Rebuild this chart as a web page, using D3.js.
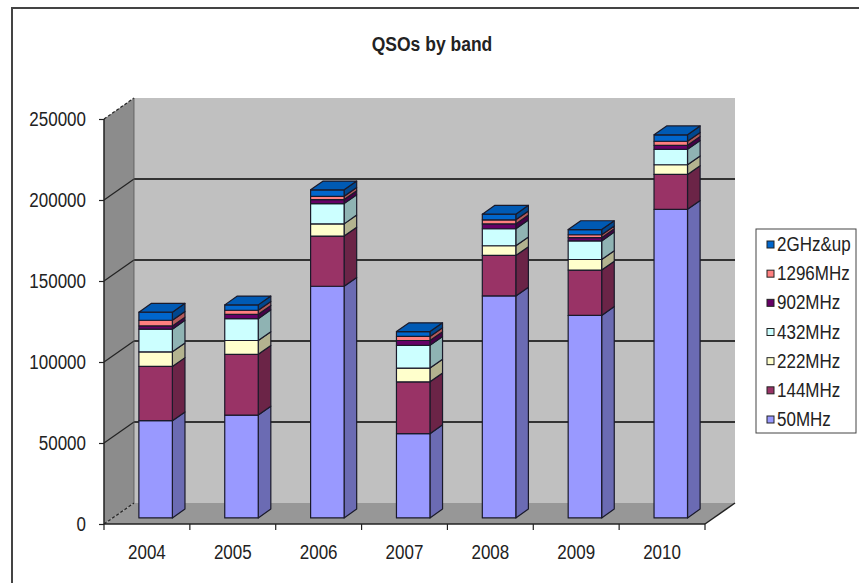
<!DOCTYPE html>
<html lang="en">
<head>
    <meta charset="UTF-8">
    <title>QSOs by band</title>
    <script src="https://d3js.org/d3.v7.min.js"></script>
    <style>
        body { margin: 0; background: #fff; }
        text { font-family: Arial, "Liberation Sans", sans-serif; fill: #222; }
    </style>
</head>
<body>
    <script>
        // Data
        const years = ["2004", "2005", "2006", "2007", "2008", "2009", "2010"];
        const bands = ["50MHz", "144MHz", "222MHz", "432MHz", "902MHz", "1296MHz", "2GHz&up"];
        const mhz50   = [60000, 63500, 143000, 52000, 137000, 125000, 190500];
        const mhz144  = [33500, 37500, 31000, 32000, 25000, 28000, 21500];
        const mhz222  = [9000, 8500, 7500, 8500, 6000, 6500, 6000];
        const mhz432  = [14000, 13500, 12500, 14000, 10500, 11500, 9500];
        const mhz902  = [2000, 2700, 2500, 3000, 3000, 2000, 2500];
        const mhz1296 = [3500, 2500, 2000, 2500, 2500, 1800, 2500];
        const ghz2up  = [5000, 3300, 4000, 3000, 3500, 3200, 4000];
        const yTicks = [0, 50000, 100000, 150000, 200000, 250000];
        const colors = ["#9999ff", "#993366", "#ffffcc", "#ccffff", "#660066", "#ff8080", "#0066cc"];

        const seriesValues = [mhz50, mhz144, mhz222, mhz432, mhz902, mhz1296, ghz2up];
        const table = years.map((yr, i) => {
            const row = { year: yr };
            bands.forEach((b, j) => row[b] = seriesValues[j][i]);
            return row;
        });
        const stacked = d3.stack().keys(bands)(table);

        const width = 859, height = 583;
        const FS = 17;         // label font size
        const STRETCH = 1.15;  // text in the original is drawn a bit tall

        const svg = d3.select("body").append("svg")
            .attr("width", width).attr("height", height);

        // chart area border
        svg.append("rect")
            .attr("x", 12).attr("y", 8)
            .attr("width", 900).attr("height", 700)
            .attr("fill", "#fff").attr("stroke", "#444").attr("stroke-width", 2);

        // scales: front plane, depth offset for back wall
        const x = d3.scaleBand().domain(years).range([104, 705]);
        const y = d3.scaleLinear().domain([0, 250000]).range([524, 119]);
        const DX = 30, DY = -21;
        const d0 = 0.29, d1 = 0.71; // bar depth span
        const color = d3.scaleOrdinal().domain(bands).range(colors);

        const poly = pts => pts.map(p => p.join(",")).join(" ");
        const x0 = x.range()[0], x1 = x.range()[1];
        const yb = y(0), yt = y(250000);

        // walls
        const walls = svg.append("g");
        walls.append("polygon") // back wall
            .attr("points", poly([[x0 + DX, yt + DY], [x1 + DX, yt + DY], [x1 + DX, yb + DY], [x0 + DX, yb + DY]]))
            .attr("fill", "#c0c0c0");
        walls.append("polygon") // side wall
            .attr("points", poly([[x0, yb], [x0 + DX, yb + DY], [x0 + DX, yt + DY], [x0, yt]]))
            .attr("fill", "#8c8c8c");
        walls.append("polygon") // floor
            .attr("points", poly([[x0, yb], [x1, yb], [x1 + DX, yb + DY], [x0 + DX, yb + DY]]))
            .attr("fill", "#979797");

        // gridlines on back wall and side wall
        const grid = svg.append("g");
        yTicks.filter(t => t > 0 && t < 250000).forEach(t => {
            grid.append("line")
                .attr("x1", x0 + DX).attr("x2", x1 + DX)
                .attr("y1", y(t) + DY).attr("y2", y(t) + DY)
                .attr("stroke", "#333").attr("stroke-width", 1.8);
        });
        yTicks.forEach(t => {
            grid.append("line")
                .attr("x1", x0).attr("y1", y(t))
                .attr("x2", x0 + DX).attr("y2", y(t) + DY)
                .attr("stroke", "#222").attr("stroke-width", 1.2)
                .attr("stroke-dasharray", (t === 0 || t === 250000) ? "3,2" : null);
        });
        grid.append("line")
            .attr("x1", x0 + DX).attr("x2", x0 + DX)
            .attr("y1", yt + DY).attr("y2", yb + DY)
            .attr("stroke", "#555").attr("stroke-width", 0.8);

        // right floor edge
        grid.append("line")
            .attr("x1", x1).attr("y1", yb).attr("x2", x1 + DX).attr("y2", yb + DY)
            .attr("stroke", "#222").attr("stroke-width", 1.5);

        // bars
        const bw = x.bandwidth() * 0.39;
        const bars = svg.append("g");
        table.forEach((row, i) => {
            const cx = x(row.year) + x.bandwidth() / 2;
            const fx = cx - bw / 2 + d0 * DX, fy = d0 * DY;
            const sx = (d1 - d0) * DX, sy = (d1 - d0) * DY;
            stacked.forEach((layer, j) => {
                const seg = layer[i];
                const c = d3.color(color(layer.key));
                const top = y(seg[1]) + fy, bot = y(seg[0]) + fy;
                const g = bars.append("g")
                    .attr("stroke", "#1a1a2a").attr("stroke-width", 1.2)
                    .attr("stroke-linejoin", "round");
                g.append("polygon") // side
                    .attr("points", poly([[fx + bw, bot], [fx + bw + sx, bot + sy], [fx + bw + sx, top + sy], [fx + bw, top]]))
                    .attr("fill", c.darker(1));
                g.append("rect") // front
                    .attr("x", fx).attr("y", top)
                    .attr("width", bw).attr("height", bot - top)
                    .attr("fill", c);
                if (j === stacked.length - 1) {
                    g.append("polygon") // top
                        .attr("points", poly([[fx, top], [fx + bw, top], [fx + bw + sx, top + sy], [fx + sx, top + sy]]))
                        .attr("fill", c.darker(0.35));
                }
            });
        });

        // front floor edge and y axis line
        const axes = svg.append("g").attr("stroke", "#222").attr("stroke-width", 1.5);
        axes.append("line").attr("x1", x0).attr("x2", x1).attr("y1", yb).attr("y2", yb);
        axes.append("line").attr("x1", x0).attr("x2", x0).attr("y1", yt).attr("y2", yb);

        // y axis ticks and labels
        const yAxis = svg.append("g")
            .attr("transform", `translate(${x0},0)`)
            .call(d3.axisLeft(y).tickValues(yTicks).tickSize(5).tickPadding(13).tickFormat(d3.format("d")));
        yAxis.select(".domain").remove();
        yAxis.selectAll(".tick line").attr("stroke", "#222").attr("stroke-width", 1.2);
        yAxis.selectAll("text")
            .attr("font-size", FS).attr("fill", "#222")
            .attr("font-family", "Arial, 'Liberation Sans', sans-serif")
            .attr("transform", `scale(1,${STRETCH})`);

        // x axis ticks and labels
        const xAxis = svg.append("g").attr("transform", `translate(0,${yb})`);
        const bounds = years.map(d => x(d)).concat([x1]);
        xAxis.selectAll("line").data(bounds).join("line")
            .attr("x1", d => d).attr("x2", d => d)
            .attr("y1", 0).attr("y2", 6)
            .attr("stroke", "#222").attr("stroke-width", 1.2);
        xAxis.selectAll("text").data(years).join("text")
            .attr("transform", d => `translate(${x(d) + x.bandwidth() / 2},35) scale(1,${STRETCH})`)
            .attr("text-anchor", "middle")
            .attr("font-size", FS)
            .text(d => d);

        // title
        svg.append("text")
            .attr("transform", `translate(432,51) scale(1,${STRETCH})`)
            .attr("text-anchor", "middle")
            .attr("font-size", 17.5).attr("font-weight", "bold")
            .text("QSOs by band");

        // legend (top series first)
        const legend = svg.append("g");
        legend.append("rect")
            .attr("x", 756).attr("y", 229)
            .attr("width", 100).attr("height", 204)
            .attr("fill", "#fff").attr("stroke", "#444").attr("stroke-width", 1);
        const items = bands.slice().reverse();
        const ly = d3.scalePoint().domain(items).range([245, 420]);
        const li = legend.selectAll("g.item").data(items).join("g")
            .attr("class", "item")
            .attr("transform", d => `translate(767,${ly(d)})`);
        li.append("rect")
            .attr("x", 0).attr("y", -4).attr("width", 7).attr("height", 7)
            .attr("fill", d => color(d)).attr("stroke", "#222").attr("stroke-width", 1);
        li.append("text")
            .attr("transform", `translate(10,6) scale(1,${STRETCH})`)
            .attr("font-size", FS)
            .text(d => d);
    </script>
</body>
</html>
